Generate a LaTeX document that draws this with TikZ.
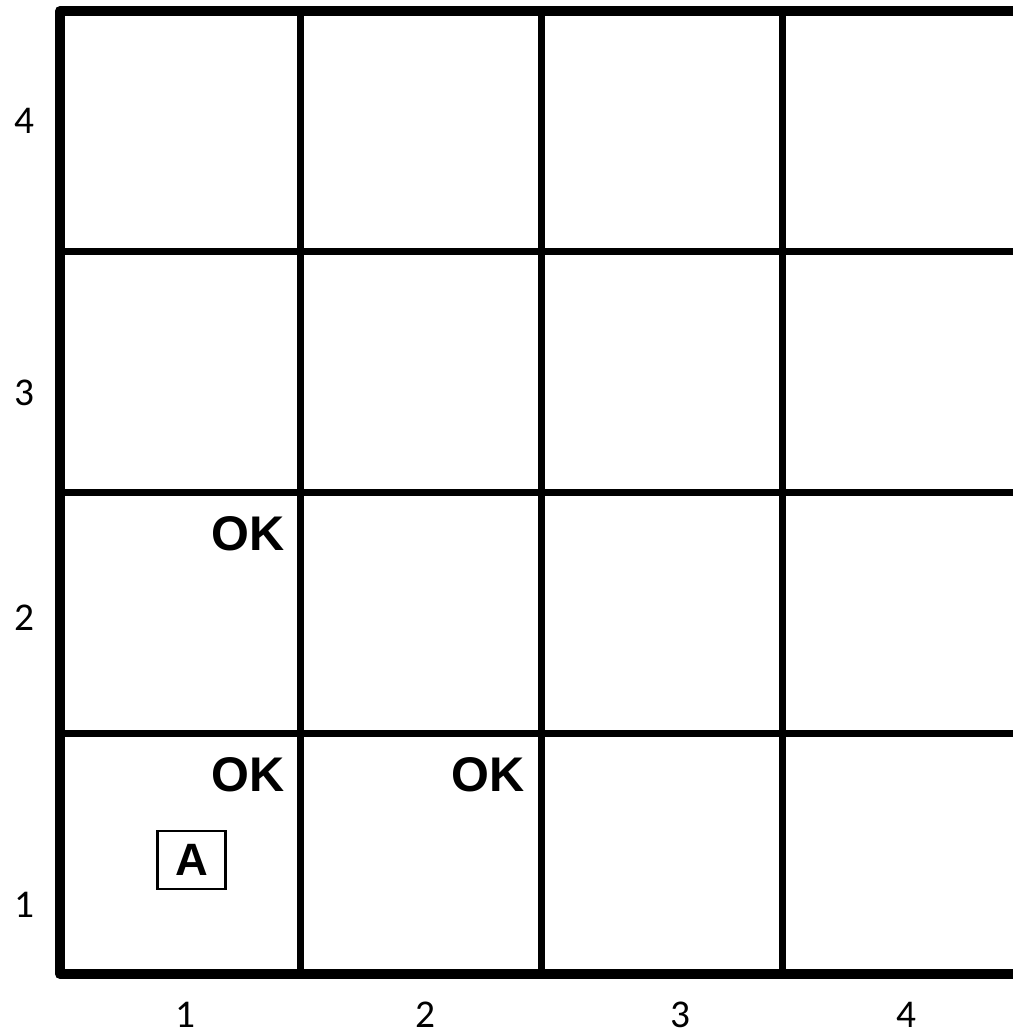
\documentclass[tikz,border=0pt]{standalone}
\usepackage{fontspec}
\setmainfont{Carlito}
\newfontfamily\arialb{Liberation Sans}
\begin{document}
\begin{tikzpicture}[x=0.75pt,y=-0.75pt,
  axislab/.style={inner sep=0pt,font=\fontsize{29.5pt}{30pt}\selectfont},
  oklab/.style={inner sep=0pt,font=\fontsize{36.5pt}{38pt}\selectfont\arialb\bfseries},
  agentbox/.style={draw,line width=1.8pt,minimum width=51pt,minimum height=43.5pt,inner sep=0pt,font=\fontsize{34pt}{35pt}\selectfont\arialb\bfseries},
  gridline/.style={line width=5pt},
  borderline/.style={line width=7.5pt,line join=round}]
\useasboundingbox (0,0) rectangle (1013,1033);
\begin{scope}
\clip (0,0) rectangle (1013,1033);
\foreach \x in {300.7,541.5,782.3} \draw[gridline] (\x,11) -- (\x,974);
\foreach \y in {251.75,492.5,733.25} \draw[gridline] (60,\y) -- (1023,\y);
\draw[borderline] (60,11) rectangle (1023,974);
\end{scope}
% axis labels
\node[axislab] (y4) at (24,121) {4};
\node[axislab] (y3) at (24,393) {3};
\node[axislab] (y2) at (24,618) {2};
\node[axislab] (y1) at (24,905) {1};
\node[axislab] (x1) at (185,1015) {1};
\node[axislab] (x2) at (425,1015) {2};
\node[axislab] (x3) at (680,1015) {3};
\node[axislab] (x4) at (906,1015) {4};
% cell labels
\node[oklab] (ok12) at (248,534) {OK};
\node[oklab] (ok11) at (248,775) {OK};
\node[oklab] (ok21) at (488,775) {OK};
\node[agentbox] (agent) at (191.5,860) {A};
\end{tikzpicture}
\end{document}
